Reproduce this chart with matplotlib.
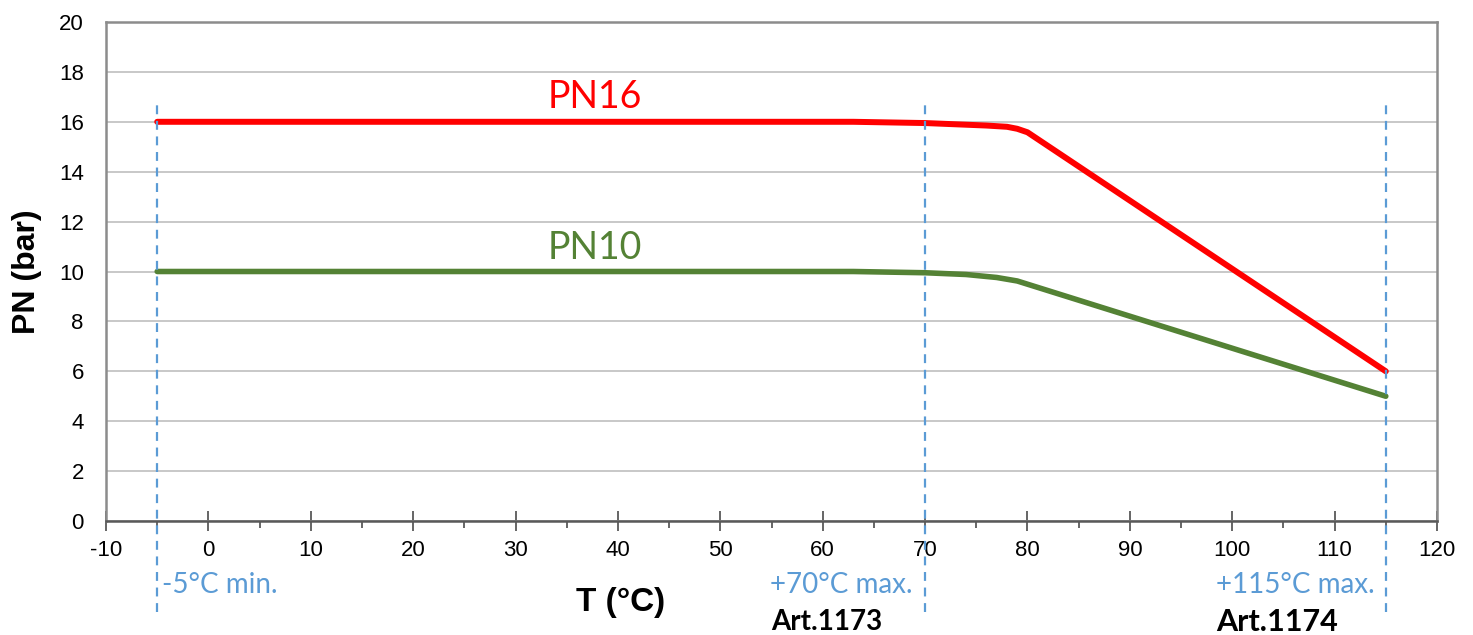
import numpy as np
import matplotlib.pyplot as plt

plt.rcParams['axes.unicode_minus'] = False

# ---- data
pn16_t = [-5, 63, 70, 76, 78, 79, 80, 115]
pn16_p = [16, 16, 15.95, 15.85, 15.8, 15.72, 15.58, 6]
pn10_t = [-5, 63, 70, 74, 77, 79, 115]
pn10_p = [10, 10, 9.95, 9.88, 9.76, 9.62, 5]
limits_t = [-5, 70, 115]
limit_labels = ['-5°C min.', '+70°C max.', '+115°C max.']
article_labels = [None, 'Art.1173', 'Art.1174']

blue = '#5B9BD5'
red = '#FF0000'
green = '#548235'

fig = plt.figure(figsize=(14.73, 6.35), dpi=100)
ax = fig.add_axes([106/1473, 1 - 521/635, (1437-106)/1473, (521-22)/635])
ax.set_xlim(-10, 120)
ax.set_ylim(0, 20)

ax.set_xticks(np.arange(-10, 121, 10))
ax.set_xticks(np.arange(-5, 120, 10), minor=True)
ax.set_yticks(np.arange(0, 21, 2))
ax.yaxis.grid(True, color='#BFBFBF', linewidth=1.2)
ax.set_axisbelow(True)

for side in ['left', 'top', 'right']:
    ax.spines[side].set_color('#8C8C8C')
    ax.spines[side].set_linewidth(1.8)
ax.spines['bottom'].set_color('#595959')
ax.spines['bottom'].set_linewidth(1.8)

ax.tick_params(axis='y', length=0, pad=16, labelsize=16)
ax.tick_params(axis='x', which='major', direction='inout', length=14, width=1.3,
               color='#595959', pad=7, labelsize=16)
ax.tick_params(axis='x', which='minor', direction='out', length=5, width=1.3,
               color='#595959')
for lab in ax.get_xticklabels() + ax.get_yticklabels():
    lab.set_fontfamily('Liberation Sans')

ax.plot(pn16_t, pn16_p, color=red, linewidth=4.3, solid_capstyle='round',
        solid_joinstyle='round', zorder=3)
ax.plot(pn10_t, pn10_p, color=green, linewidth=4.0, solid_capstyle='round',
        solid_joinstyle='round', zorder=3)

ax.text(37.7, 17.0, 'PN16', color=red, fontsize=27, family='Lato',
        ha='center', va='center')
ax.text(37.7, 10.95, 'PN10', color=green, fontsize=27, family='Lato',
        ha='center', va='center')

for t in limits_t:
    ax.plot([t, t], [-3.65, 16.9], color=blue, linestyle=(0, (4, 3)),
            linewidth=1.6, clip_on=False, zorder=4)

ax.text(-4.5, -2.55, limit_labels[0], color=blue, fontsize=20, family='Lato',
        ha='left', va='center')
ax.text(68.8, -2.55, limit_labels[1], color=blue, fontsize=20, family='Lato',
        ha='right', va='center')
ax.text(113.9, -2.55, limit_labels[2], color=blue, fontsize=20, family='Lato',
        ha='right', va='center')
ax.text(55.0, -4.05, article_labels[1], color='black', fontsize=20,
        family='Lato', fontweight='bold', ha='left', va='center')
ax.text(98.4, -4.05, article_labels[2], color='black', fontsize=22,
        family='Lato', fontweight='bold', ha='left', va='center')

ax.text(40.3, -3.25, 'T (°C)', fontsize=24, fontweight='bold',
        family='Liberation Sans', ha='center', va='center')
ax.set_ylabel('PN (bar)', fontsize=23, fontweight='bold',
              family='Liberation Sans', labelpad=12)

fig.savefig('out.png', dpi=100)
